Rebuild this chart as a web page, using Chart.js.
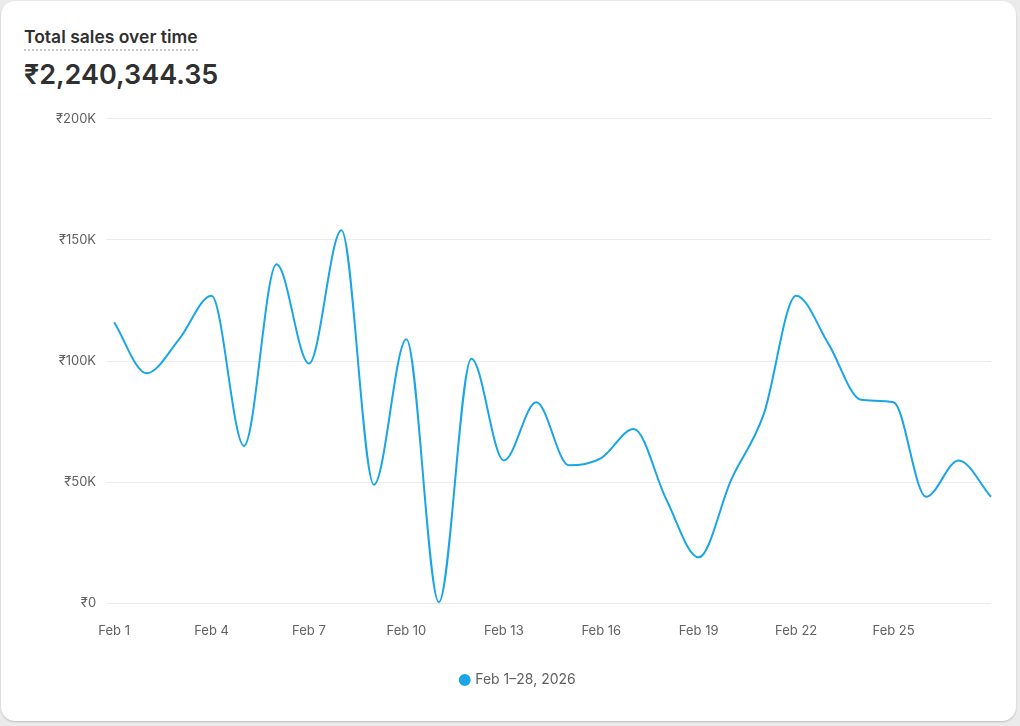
<!DOCTYPE html>
<html><head><meta charset="utf-8">
<script src="https://cdn.jsdelivr.net/npm/chart.js@4"></script>
<style>
html,body{margin:0;padding:0;background:#ebebeb;font-family:Inter,"Noto Sans",sans-serif;}
#card{position:absolute;left:1px;top:1px;width:1015px;height:720px;background:#fff;border-radius:14px;box-shadow:0 1px 2px rgba(0,0,0,.2);}
#t{position:absolute;left:23px;top:25px;font-size:17.5px;font-weight:600;color:#303030;border-bottom:2px dotted #c8c8c8;padding-bottom:2px;}
#v{position:absolute;left:23px;top:57px;font-size:27px;font-weight:600;color:#303030;}
#w{position:absolute;left:0;top:100px;width:1010px;height:610px;}
</style></head><body>
<div id="card"><div id="t">Total sales over time</div><div id="v">₹2,240,344.35</div>
<div id="w"><canvas id="c"></canvas></div></div>
<script>
const labels=["Feb 1","Feb 2","Feb 3","Feb 4","Feb 5","Feb 6","Feb 7","Feb 8","Feb 9","Feb 10","Feb 11","Feb 12","Feb 13","Feb 14","Feb 15","Feb 16","Feb 17","Feb 18","Feb 19","Feb 20","Feb 21","Feb 22","Feb 23","Feb 24","Feb 25","Feb 26","Feb 27","Feb 28"];
const sales=[116000,95000,109000,127000,65000,140000,99000,154000,49000,109000,500,101000,59000,83000,57000,60000,72000,43000,19000,51000,78000,127000,107000,84000,83000,44000,59000,44000];
const yTicks=[0,50000,100000,150000,200000];
new Chart(document.getElementById('c'),{type:'line',
data:{labels,datasets:[{label:'Feb 1–28, 2026',data:sales,borderColor:'#1aa5e6',backgroundColor:'#1aa5e6',borderWidth:2,pointRadius:0,cubicInterpolationMode:'monotone',fill:false}]},
options:{responsive:true,maintainAspectRatio:false,animation:false,
layout:{padding:{left:45,right:20,top:8,bottom:14}},
plugins:{legend:{position:'bottom',labels:{usePointStyle:true,pointStyle:'circle',boxWidth:7,boxHeight:7,color:'#616161',font:{family:'Inter',size:14},padding:22}},tooltip:{enabled:false}},
scales:{
x:{grid:{display:false},border:{display:false},ticks:{autoSkip:false,maxRotation:0,color:'#616161',font:{family:'Inter',size:13},padding:12,callback:(v,i)=>(i%3===0&&i<27)?labels[i]:''}},
y:{min:0,max:200000,afterBuildTicks:a=>{a.ticks=yTicks.map(v=>({value:v}));},grid:{color:'#ebebeb'},border:{display:false},ticks:{color:'#616161',font:{family:'Inter',size:13},padding:10,callback:v=>'₹'+(v===0?'0':(v/1000)+'K')}}
}}});
</script></body></html>
